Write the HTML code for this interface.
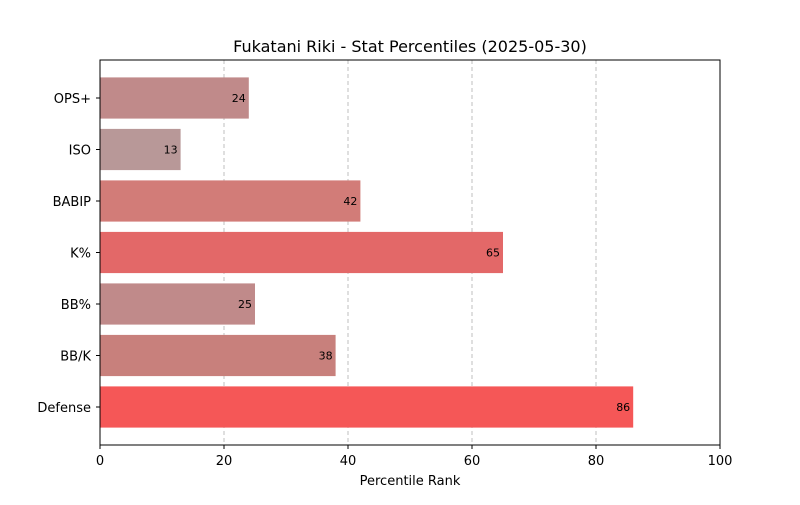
<!DOCTYPE html>
<html><head><meta charset="utf-8"><style>
body{margin:0;background:#fff;font-family:"Liberation Sans","DejaVu Sans",sans-serif;}
svg text{font-family:"DejaVu Sans","Liberation Sans",sans-serif;}
</style></head><body>
<svg id="chart" width="800" height="500" xmlns="http://www.w3.org/2000/svg">
<rect width="800" height="500" fill="#fff"/>
<text x="410" y="52" text-anchor="middle" font-size="16" fill="#000">Fukatani Riki - Stat Percentiles (2025-05-30)</text>
<g id="grid"></g><g id="bars"></g><g id="axes"></g>
<text x="410" y="485" text-anchor="middle" font-size="13">Percentile Rank</text>
</svg>
<script>
const categories=["OPS+","ISO","BABIP","K%","BB%","BB/K","Defense"];
const values=[24,13,42,65,25,38,86];
const colors=["#c08a8a","#b89898","#d27c78","#e36868","#c08a8a","#c8807c","#f55757"];
const xTicks=[0,20,40,60,80,100];
const NS="http://www.w3.org/2000/svg";
const L=100,R=720,T=60,B=445;
const x=v=>L+(v-0)/(100)*(R-L);
const unit=51.5;
const y=i=>98+i*unit;
function mk(t,a,p){const e=document.createElementNS(NS,t);for(const k in a)e.setAttribute(k,a[k]);p.appendChild(e);return e;}
const g=document.getElementById('grid'),b=document.getElementById('bars'),ax=document.getElementById('axes');
xTicks.forEach(t=>{
 if(t>0&&t<100){const l=mk('line',{x1:x(t),x2:x(t),y1:T,y2:B,stroke:'#b0b0b0','stroke-dasharray':'4,3','stroke-width':0.8},g);
 
 }
 mk('line',{x1:x(t),x2:x(t),y1:B,y2:B+4,stroke:'#000'},ax);
 const tx=mk('text',{x:x(t),y:B+20,'text-anchor':'middle','font-size':13},ax);tx.textContent=t;
 
 
});
categories.forEach((c,i)=>{
 const cy=y(i),h=0.8*unit;
 const r=mk('rect',{x:x(0),y:cy-h/2,width:x(values[i])-x(0),height:h,fill:colors[i]},b);
 
 
 const vt=mk('text',{x:x(values[i])-3,y:cy+4,'text-anchor':'end','font-size':11},b);vt.textContent=values[i];
 
 
 mk('line',{x1:L-4,x2:L,y1:cy,y2:cy,stroke:'#000'},ax);
 const lt=mk('text',{x:L-9,y:cy+5,'text-anchor':'end','font-size':13},ax);lt.textContent=c;
 
 
});
const fr=mk('rect',{x:L,y:T,width:R-L,height:B-T,fill:'none',stroke:'#000','stroke-width':1},ax);


</script>
</body></html>
